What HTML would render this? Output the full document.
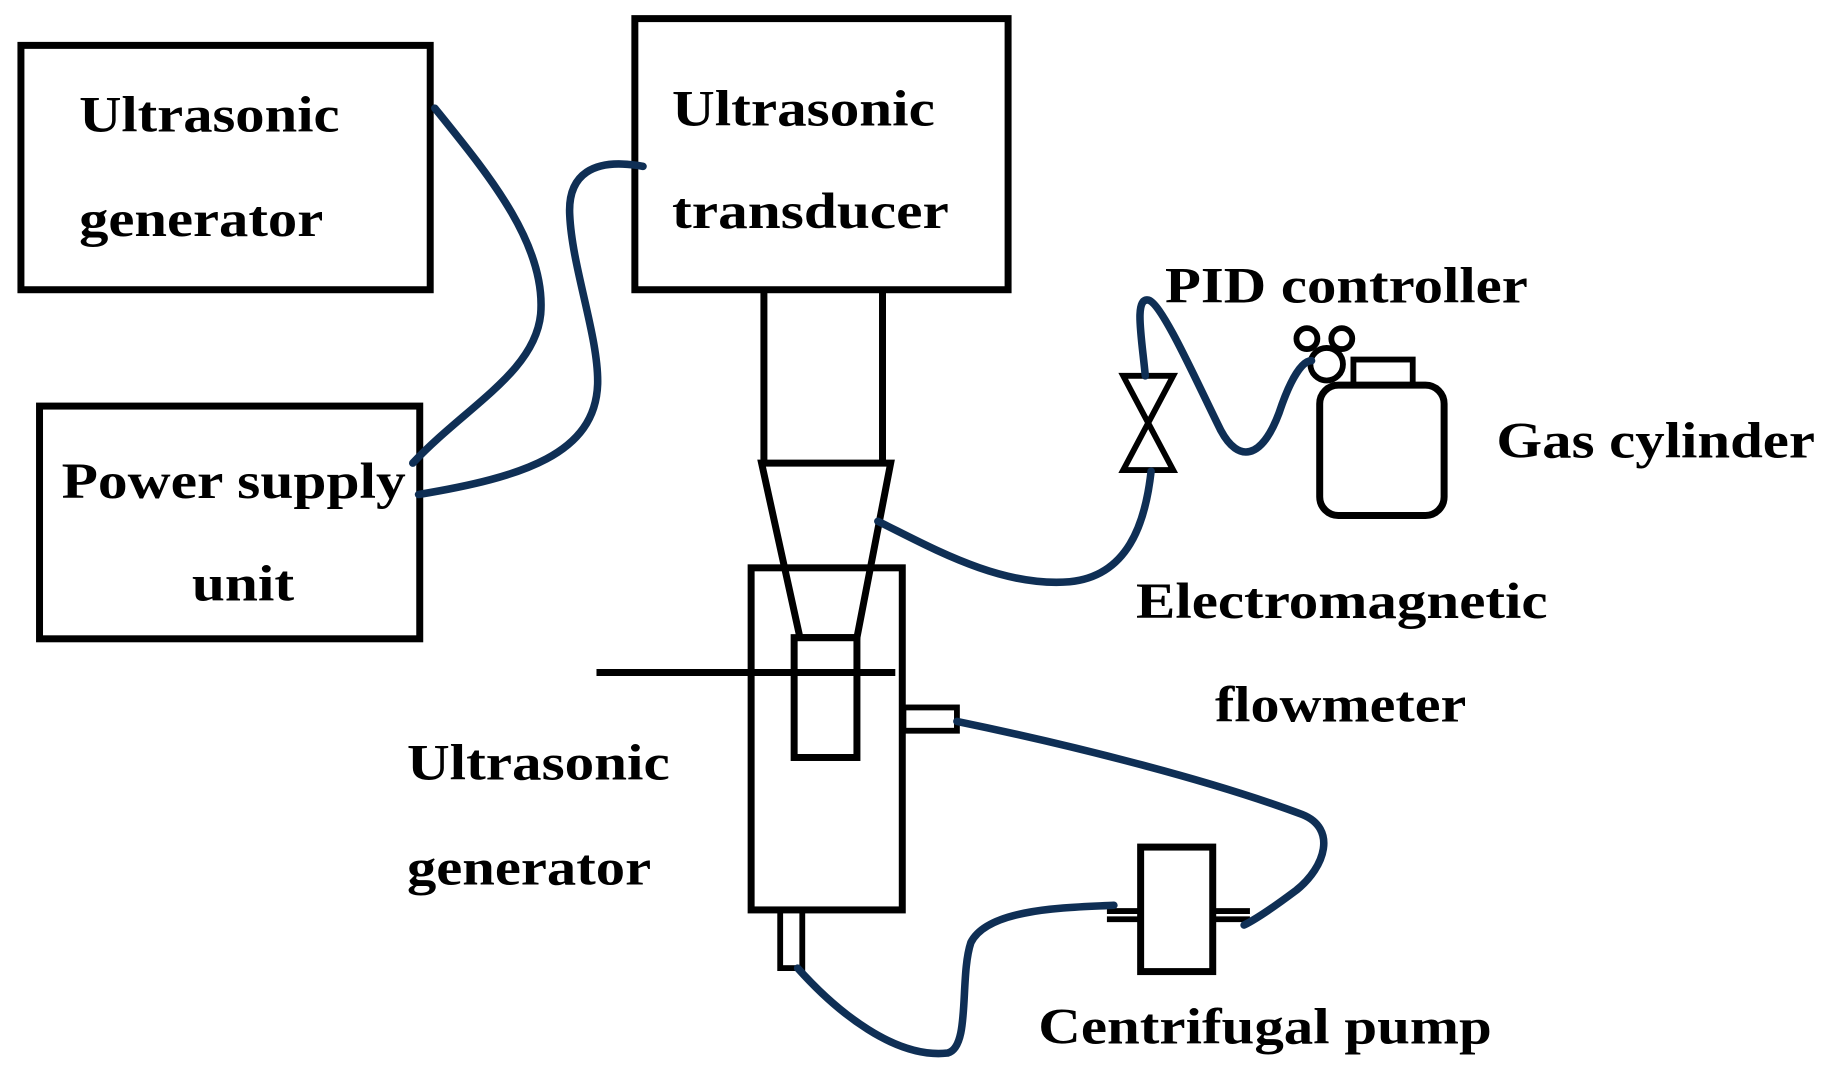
<!DOCTYPE html>
<html><head><style>html,body{margin:0;padding:0;background:#fff}svg{display:block}</style></head>
<body>
<svg width="1822" height="1067" viewBox="0 0 1567 917" preserveAspectRatio="none" xmlns="http://www.w3.org/2000/svg">
<rect width="1567" height="917" fill="#fff"/>
<g fill="none" stroke="#000" stroke-width="6">
<rect x="18" y="39" width="352" height="210"/>
<rect x="34" y="349" width="327" height="200"/>
<rect x="546" y="16" width="321" height="233"/>
<line x1="657" y1="249" x2="657" y2="398"/>
<line x1="759" y1="249" x2="759" y2="398"/>
<polygon points="655,398 766,398 737,548 688,548"/>
<rect x="683" y="548" width="54" height="103"/>
<rect x="646" y="488" width="130" height="294"/>
<line x1="513" y1="578" x2="770" y2="578"/>
<rect x="777" y="608" width="46" height="20" stroke-width="5"/>
<rect x="671" y="782" width="19" height="50" stroke-width="5"/>
<rect x="981" y="728" width="62" height="107"/>
<line x1="952" y1="783" x2="981" y2="783" stroke-width="5"/>
<line x1="952" y1="790" x2="981" y2="790" stroke-width="5"/>
<line x1="1043" y1="783" x2="1075" y2="783" stroke-width="5"/>
<line x1="1043" y1="790" x2="1075" y2="790" stroke-width="5"/>
<polygon points="966,323 1009,323 966,404 1009,404" stroke-width="5"/>
<rect x="1135" y="331" width="107" height="112" rx="16"/>
<rect x="1164" y="309" width="51" height="22" stroke-width="5"/>
<circle cx="1124" cy="291" r="9" stroke-width="5"/>
<circle cx="1154" cy="291" r="9" stroke-width="5"/>
<circle cx="1141" cy="313" r="14" stroke-width="5"/>
</g>
<g fill="none" stroke="#0f2f55" stroke-width="6.5" stroke-linecap="round">
<path d="M374,93 C420,150 470,210 465,270 C460,320 400,350 355,398"/>
<path d="M553,143 C510,135 488,150 490,185 C492,230 515,290 514,330 C512,390 450,410 360,425"/>
<path d="M755,448 C800,470 860,505 920,500 C970,495 985,450 990,405"/>
<path d="M985,323 C982,290 975,255 988,258 C1000,262 1030,330 1050,370 C1065,398 1085,395 1100,355 C1110,325 1120,310 1128,310"/>
<path d="M823,620 C920,640 1040,670 1120,700 C1150,712 1140,745 1115,765 C1095,780 1080,790 1070,795"/>
<path d="M686,832 C720,870 770,910 815,905 C835,900 825,840 835,810 C850,780 920,780 958,778"/>
</g>
<g font-family="Liberation Serif, serif" font-weight="bold" font-size="44" fill="#000">
<text x="68" y="113" textLength="224" lengthAdjust="spacingAndGlyphs">Ultrasonic</text>
<text x="68" y="203" textLength="210" lengthAdjust="spacingAndGlyphs">generator</text>
<text x="578" y="108" textLength="226" lengthAdjust="spacingAndGlyphs">Ultrasonic</text>
<text x="578" y="196" textLength="238" lengthAdjust="spacingAndGlyphs">transducer</text>
<text x="53" y="428" textLength="296" lengthAdjust="spacingAndGlyphs">Power supply</text>
<text x="165" y="516" textLength="88" lengthAdjust="spacingAndGlyphs">unit</text>
<text x="1002" y="260" textLength="312" lengthAdjust="spacingAndGlyphs">PID controller</text>
<text x="1287" y="393" textLength="274" lengthAdjust="spacingAndGlyphs">Gas cylinder</text>
<text x="977" y="531" textLength="354" lengthAdjust="spacingAndGlyphs">Electromagnetic</text>
<text x="1045" y="620" textLength="216" lengthAdjust="spacingAndGlyphs">flowmeter</text>
<text x="350" y="670" textLength="226" lengthAdjust="spacingAndGlyphs">Ultrasonic</text>
<text x="350" y="760" textLength="210" lengthAdjust="spacingAndGlyphs">generator</text>
<text x="893" y="897" textLength="390" lengthAdjust="spacingAndGlyphs">Centrifugal pump</text>
</g>
</svg>
</body></html>
